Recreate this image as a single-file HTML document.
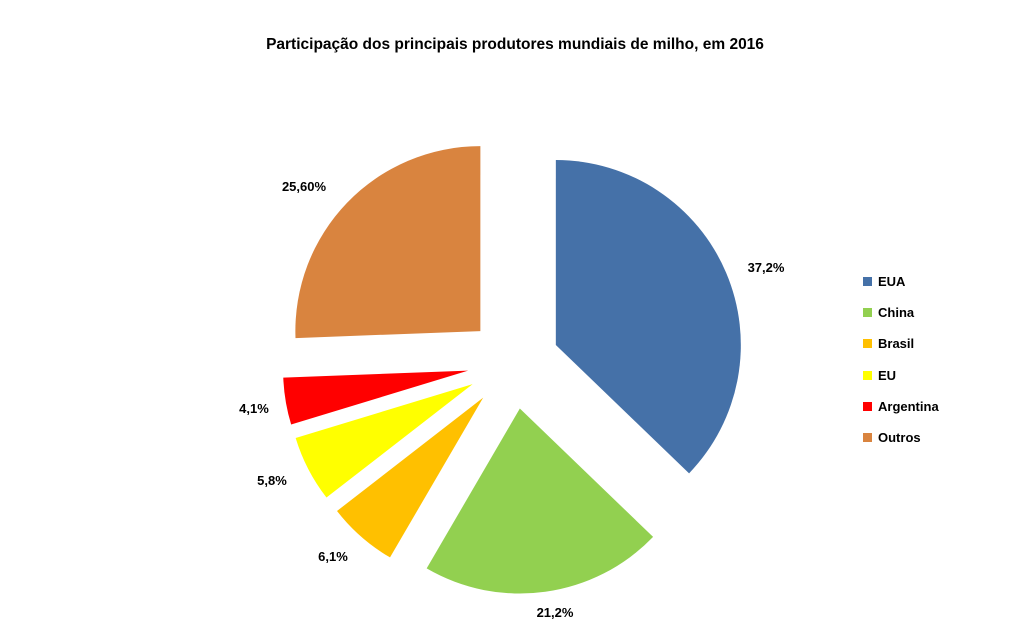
<!DOCTYPE html>
<html><head><meta charset="utf-8"><style>
body{margin:0;background:#fff;width:1013px;height:632px;overflow:hidden}
text{font-family:"Liberation Sans",Arial,sans-serif;font-weight:bold;fill:#000}
</style></head><body>
<svg id="s" width="1013" height="632" viewBox="0 0 1013 632">
<rect width="1013" height="632" fill="#fff"/>
<g id="pie"></g>
<text x="515" y="49" text-anchor="middle" font-size="15.5">Participação dos principais produtores mundiais de milho, em 2016</text>
<g font-size="13">
<text x="766" y="272" text-anchor="middle">37,2%</text>
<text x="555" y="617" text-anchor="middle">21,2%</text>
<text x="333" y="561" text-anchor="middle">6,1%</text>
<text x="272" y="485" text-anchor="middle">5,8%</text>
<text x="254" y="413" text-anchor="middle">4,1%</text>
<text x="304" y="191" text-anchor="middle">25,60%</text>
</g>
<g font-size="13">
<rect x="863" y="277" width="9" height="9" fill="#4571a8"/><text x="878" y="286">EUA</text>
<rect x="863" y="308" width="9" height="9" fill="#92d050"/><text x="878" y="317">China</text>
<rect x="863" y="339" width="9" height="9" fill="#ffc000"/><text x="878" y="348">Brasil</text>
<rect x="863" y="371" width="9" height="9" fill="#ffff00"/><text x="878" y="380">EU</text>
<rect x="863" y="402" width="9" height="9" fill="#ff0000"/><text x="878" y="411">Argentina</text>
<rect x="863" y="433" width="9" height="9" fill="#d9843f"/><text x="878" y="442">Outros</text>
</g>
</svg>
<script>
var vals=[37.2,21.2,6.1,5.8,4.1,25.6],cols=["#4571a8","#92d050","#ffc000","#ffff00","#ff0000","#d9843f"];
var cx=513.5,cy=363,r=185,d=46,a=0,g=document.getElementById("pie"),h="";
function pt(x,y,ang,rr){var t=ang*Math.PI/180;return [x+rr*Math.sin(t),y-rr*Math.cos(t)];}
for(var i=0;i<6;i++){var s=a*3.6,e=(a+vals[i])*3.6,m=(s+e)/2;var c=pt(cx,cy,m,d);
var p1=pt(c[0],c[1],s,r),p2=pt(c[0],c[1],e,r);
h+='<path fill="'+cols[i]+'" d="M'+c[0]+','+c[1]+' L'+p1[0]+','+p1[1]+' A'+r+','+r+' 0 '+((e-s)>180?1:0)+' 1 '+p2[0]+','+p2[1]+' Z"/>';a+=vals[i];}
g.innerHTML=h;
</script>
</body></html>
